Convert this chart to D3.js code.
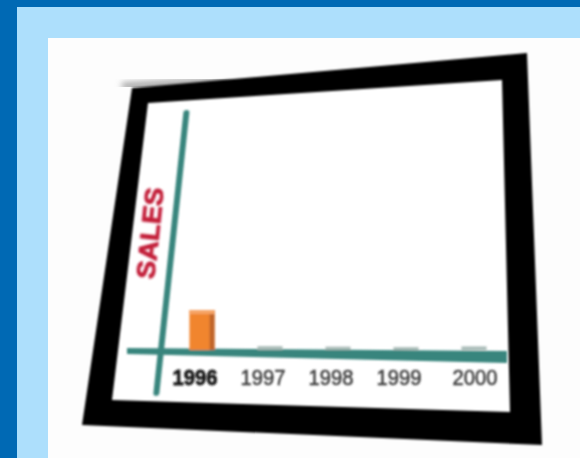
<!DOCTYPE html>
<html>
<head>
<meta charset="utf-8">
<script src="https://cdn.jsdelivr.net/npm/d3@7"></script>
<style>
  body { margin: 0; background: #0069b4; }
  svg { display: block; }
</style>
</head>
<body>
<svg id="chart" width="580" height="458"></svg>
<script>
// data
var years = ["1996", "1997", "1998", "1999", "2000"];
var sales = [17, 1.2, 1, 0.8, 1.1];
var yTicks = [];          // the axis has no tick labels
var axisTitle = "SALES";

var svg = d3.select("#chart");

// backdrop: dark blue, light blue mat, white panel
svg.append("rect").attr("width", 580).attr("height", 458).attr("fill", "#0069b4");
svg.append("rect").attr("x", 17).attr("y", 7).attr("width", 563).attr("height", 451).attr("fill", "#addffc");
svg.append("rect").attr("x", 48).attr("y", 38).attr("width", 532).attr("height", 420).attr("fill", "#fdfdfd");

var defs = svg.append("defs");
defs.append("filter").attr("id", "soft")
  .append("feGaussianBlur").attr("stdDeviation", 0.9);
defs.append("filter").attr("id", "shadow")
  .append("feGaussianBlur").attr("stdDeviation", 3);

// picture frame (tilted quad)
var outer = [[132, 88], [527, 53], [542, 445], [82, 425]],
    inner = [[148, 103], [502, 80], [510, 412], [112, 400]];
var quad = function(p) { return "M" + p.join("L") + "Z"; };

svg.append("path")
    .attr("d", "M122,86L230,80")
    .attr("stroke", "#999")
    .attr("stroke-width", 6)
    .attr("filter", "url(#shadow)");

svg.append("path")
    .attr("d", quad(inner))
    .attr("fill", "#ffffff");

svg.append("path")
    .attr("d", quad(outer) + quad(inner))
    .attr("fill", "#050505")
    .attr("fill-rule", "evenodd")
    .attr("filter", "url(#soft)");

// scales
var x = d3.scaleBand()
    .domain(years)
    .range([168, 508])
    .paddingInner(0.63)
    .paddingOuter(0.315);

var y = d3.scaleLinear()
    .domain([0, 100])
    .range([350, 115]);

var teal = "#38857d";
var g = svg.append("g").attr("filter", "url(#soft)");

// x axis floor band (slight perspective)
var xa0 = x.range()[0] - 41, xa1 = x.range()[1] - 1;
g.append("path")
    .attr("d", "M" + xa0 + "," + (y(0) - 2) + "L" + xa1 + "," + (y(0) + 1) +
               "L" + xa1 + "," + (y(0) + 13) + "L" + xa0 + "," + (y(0) + 4) + "Z")
    .attr("fill", teal);

// tiny bars for later years + orange bar for 1996
var data = years.map(function(d, i) { return { year: d, value: sales[i] }; });

g.selectAll(".small")
  .data(data.slice(1))
  .enter().append("rect")
    .attr("class", "small")
    .attr("x", function(d) { return x(d.year); })
    .attr("y", function(d) { return y(d.value) - 1; })
    .attr("width", x.bandwidth())
    .attr("height", function(d) { return y(0) - y(d.value) + 1; })
    .attr("fill", "#a9bbb7");

var big = g.selectAll(".big")
  .data(data.slice(0, 1))
  .enter().append("g").attr("class", "big");

big.append("rect")
    .attr("x", function(d) { return x(d.year); })
    .attr("y", function(d) { return y(d.value); })
    .attr("width", x.bandwidth())
    .attr("height", function(d) { return y(0) - y(d.value); })
    .attr("fill", "#f1852f");
big.append("rect")
    .attr("x", function(d) { return x(d.year) + x.bandwidth() - 5; })
    .attr("y", function(d) { return y(d.value); })
    .attr("width", 5)
    .attr("height", function(d) { return y(0) - y(d.value); })
    .attr("fill", "#c0652c");
big.append("rect")
    .attr("x", function(d) { return x(d.year); })
    .attr("y", function(d) { return y(d.value); })
    .attr("width", x.bandwidth())
    .attr("height", 4)
    .attr("fill", "#f6a466");

// y axis: slanted teal post
var skew = -6.1;
var yAxisG = g.append("g")
    .attr("transform", "translate(" + 161 + "," + y(0) + ") skewX(" + skew + ") translate(0," + (-y(0)) + ")");

yAxisG.call(d3.axisLeft(y).tickValues(yTicks).tickSizeOuter(0));
yAxisG.select(".domain").remove();
yAxisG.append("line")
    .attr("x1", 0).attr("x2", 0)
    .attr("y1", y.range()[1] - 2)
    .attr("y2", y(0) + 43)
    .attr("stroke", teal)
    .attr("stroke-width", 6)
    .attr("stroke-linecap", "round");

// axis title
svg.append("text")
    .attr("transform", "translate(159,234) rotate(-84)")
    .attr("text-anchor", "middle")
    .attr("font-family", "Liberation Sans, Arial, sans-serif")
    .attr("font-weight", "bold")
    .attr("font-size", 25)
    .attr("textLength", 92)
    .attr("lengthAdjust", "spacingAndGlyphs")
    .attr("fill", "#c21d38")
    .attr("stroke", "#c21d38")
    .attr("stroke-width", 0.8)
    .attr("filter", "url(#soft)")
    .text(axisTitle);

// x tick labels
var xAxisG = svg.append("g")
    .attr("transform", "translate(0," + (y(0) + 6) + ")")
    .attr("filter", "url(#soft)")
    .call(d3.axisBottom(x).tickSize(0).tickPadding(13));

xAxisG.select(".domain").remove();
xAxisG.selectAll("text")
    .attr("font-family", "Liberation Sans Narrow, Liberation Sans, Arial, sans-serif")
    .attr("font-size", 22)
    .attr("dx", function(d, i) { return i === 4 ? 1 : -7; })
    .attr("textLength", 45)
    .attr("lengthAdjust", "spacingAndGlyphs")
    .attr("font-weight", function(d, i) { return i === 0 ? "bold" : "normal"; })
    .attr("stroke", function(d, i) { return i === 0 ? "#1a1a1a" : "#3a3a3a"; })
    .attr("stroke-width", function(d, i) { return i === 0 ? 0.8 : 0.5; })
    .attr("fill", function(d, i) { return i === 0 ? "#1a1a1a" : "#3a3a3a"; });
</script>
</body>
</html>
